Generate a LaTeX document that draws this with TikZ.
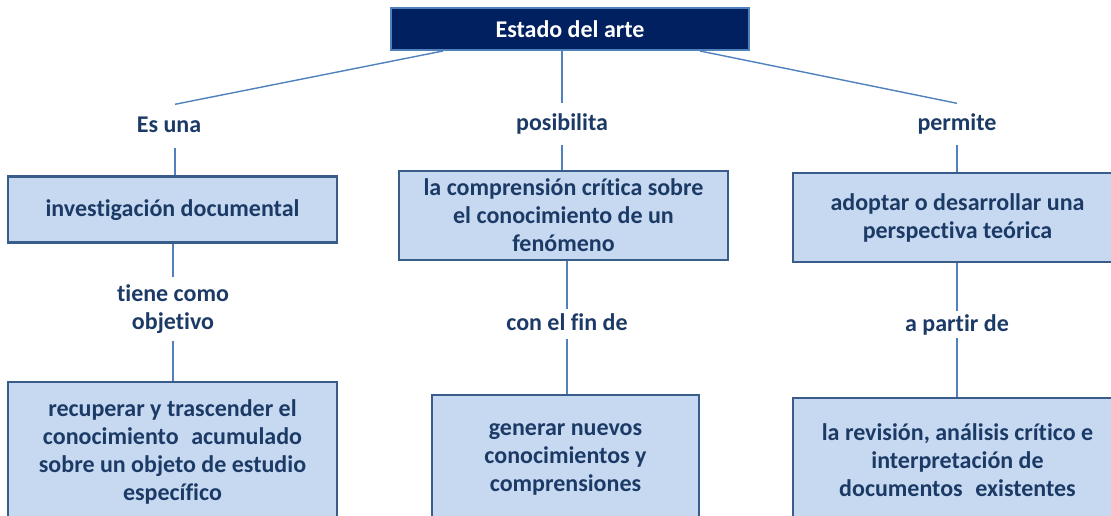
\documentclass[tikz,border=0pt]{standalone}
\usepackage{fontspec}
\setmainfont{Carlito}[Ligatures=NoCommon]
\definecolor{txt}{HTML}{1C3A66}
\definecolor{boxfill}{HTML}{C6D9F1}
\definecolor{boxline}{HTML}{385D8A}
\definecolor{conn}{HTML}{4F81BD}
\definecolor{navy}{HTML}{002060}
\begin{document}
\begin{tikzpicture}[x=1pt,y=-1pt,
  every node/.style={font=\fontsize{24}{28}\selectfont\bfseries, text=txt, align=center},
  titlebox/.style={draw=conn, line width=2pt, fill=navy, text=white, minimum width=358pt, minimum height=42pt, inner sep=0pt},
  conceptbox/.style={draw=boxline, line width=2.8pt, fill=boxfill, inner sep=0pt},
  linklabel/.style={inner xsep=2pt, inner ysep=11pt, text height=16pt, text depth=5pt},
  link/.style={draw=conn, line width=1.4pt}]
\useasboundingbox (0,0) rectangle (1111,515);
\clip (0,0) rectangle (1111,515);
% title
\node[titlebox] (top) at (570,29) {Estado del arte};
% first-level link labels
\node[linklabel, inner ysep=10pt, text height=18pt] (esuna) at (169,126) {Es una};
\node[linklabel, inner ysep=9pt, text height=18pt] (posib) at (562,124) {posibilita};
\node[linklabel, inner ysep=9pt, text height=18pt] (permite) at (957,124) {permite};
% first row boxes
\node[conceptbox, minimum width=329pt, minimum height=66pt, text height=17pt, text depth=3pt] (inv) at (172.5,209.5) {investigación documental};
\node[conceptbox, minimum width=329pt, minimum height=89pt] (comp) at (563.5,215.5) {la comprensión crítica sobre\\el conocimiento de un\\fenómeno};
\node[conceptbox, minimum width=329pt, minimum height=89pt] (adop) at (957.5,217.5) {adoptar o desarrollar una\\perspectiva teórica};
% second-level link labels
\node[inner xsep=2pt, inner ysep=7pt] (tiene) at (173,309) {tiene como\\objetivo};
\node[linklabel, inner ysep=3pt, text height=18pt] (fin) at (567,324) {con el fin de};
\node[linklabel, inner ysep=2pt, text height=18pt] (partir) at (957,324.5) {a partir de};
% bottom row boxes
\node[conceptbox, minimum width=329pt, minimum height=140pt] (recu) at (172.5,452) {recuperar y trascender el\\conocimiento\hspace{0.3em} acumulado\\sobre un objeto de estudio\\específico};
\node[conceptbox, minimum width=267pt, minimum height=128pt] (gen) at (565.5,459) {generar nuevos\\conocimientos y\\comprensiones};
\node[conceptbox, minimum width=329pt, minimum height=124pt] (rev) at (957.5,460) {la revisión, análisis crítico e\\interpretación de\\documentos\hspace{0.3em} existentes};
% connectors
\draw[link] ([xshift=-127pt]top.south) -- ([xshift=6pt]esuna.north);
\draw[link] ([xshift=-8pt]top.south) -- (posib.north);
\draw[link] ([xshift=130pt]top.south) -- (permite.north);
\draw[link] ([xshift=6pt]esuna.south) -- ([xshift=2.5pt]inv.north);
\draw[link] (posib.south) -- (posib.south |- comp.north);
\draw[link] (permite.south) -- (permite.south |- adop.north);
\draw[link] (inv.south -| tiene.north) -- (tiene.north);
\draw[link] (tiene.south) -- (tiene.south |- recu.north);
\draw[link] (comp.south -| fin.north) -- (fin.north);
\draw[link] (fin.south) -- (fin.south |- gen.north);
\draw[link] (adop.south -| partir.north) -- (partir.north);
\draw[link] (partir.south) -- (partir.south |- rev.north);
\end{tikzpicture}
\end{document}
